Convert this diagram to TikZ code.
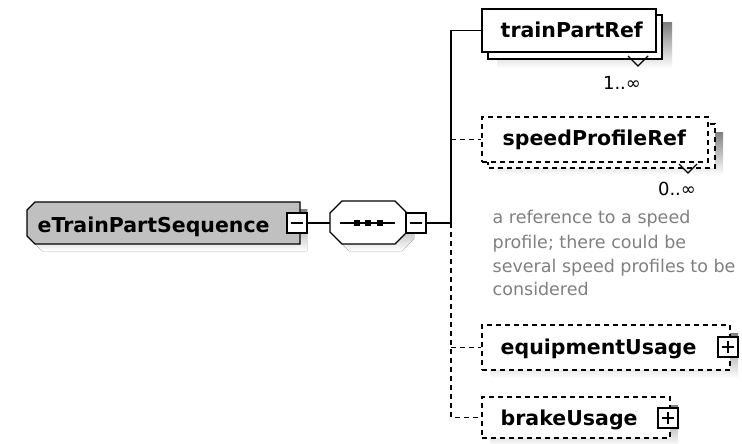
\documentclass[tikz,border=0pt]{standalone}
\usepackage{fontspec}
\setmainfont{DejaVu Sans}
\definecolor{shade}{HTML}{C6C6C6}
\definecolor{mainfill}{HTML}{C0C0C0}
\definecolor{doc}{HTML}{808080}
\begin{document}
\begin{tikzpicture}[x=1pt,y=-1pt,line width=1.4pt,
  box/.style={draw=black,fill=white,line width=1.4pt,inner sep=0pt},
  dbox/.style={box,dash pattern=on 5pt off 4pt},
  title/.style={font=\fontsize{20.5}{24}\selectfont\bfseries,inner sep=0pt,anchor=base west},
  doctext/.style={font=\fontsize{17.5}{20}\selectfont,text=doc,inner sep=0pt,anchor=base west},
  occ/.style={font=\fontsize{18}{20}\selectfont,inner sep=0pt,anchor=base},
  pm/.style={draw=black,fill=white,line width=1.4pt,minimum width=20pt,minimum height=20pt,inner sep=0pt},
  conn/.style={line width=1.4pt},
  dconn/.style={conn,dash pattern=on 5pt off 4pt}]
\useasboundingbox[fill=white] (0,0) rectangle (742,444);

% ---------- main element ----------
\fill[shade,shift={(7,7)}] (35,202) -- (300,202) -- (300,244) -- (35,244) -- (27,236) -- (27,210) -- cycle;
\draw[fill=mainfill] (35,202) -- (300,202) -- (300,244) -- (35,244) -- (27,236) -- (27,210) -- cycle;
\node[title] (mainlbl) at (37,232) {eTrainPartSequence};
\node[pm] (m1) at (297,223) {};
\draw ([xshift=-6pt]m1.center) -- ([xshift=6pt]m1.center);

% ---------- sequence compositor ----------
\fill[shade,shift={(7,7)}] (342,201) -- (395,201) -- (407,213) -- (407,232) -- (395,244) -- (342,244) -- (330,232) -- (330,213) -- cycle;
\draw[fill=white] (342,201) -- (395,201) -- (407,213) -- (407,232) -- (395,244) -- (342,244) -- (330,232) -- (330,213) -- cycle;
\coordinate (seqL) at (330,223);
\coordinate (seqA) at (340,223);
\coordinate (seqB) at (395,223);
\draw (seqA) -- (seqB);
\foreach \xx in {357,368,380} {\fill (\xx-3,220) rectangle (\xx+3,226);}
\node[pm] (m2) at (416,223) {};
\draw ([xshift=-6pt]m2.center) -- ([xshift=6pt]m2.center);

\coordinate (trunk) at (451,223);

% ---------- trainPartRef ----------
\fill[shade] (497,23) rectangle (672,68);
\draw[fill=white] (488,15) rectangle (662,59);
\node[box,minimum width=174pt,minimum height=43pt] (tpr) at (569,30.5) {};
\node[title] (tprlbl) at (500,38) {trainPartRef};
\draw (628,56) -- (638,66) -- (648,56);
\node[occ] (tprocc) at (622,89) {1..∞};

% ---------- speedProfileRef ----------
\fill[shade] (497,132) rectangle (723,175);
\draw[fill=white,dash pattern=on 5pt off 4pt] (488,124) rectangle (715,168);
\node[dbox,minimum width=226pt,minimum height=45pt] (spr) at (595,139.5) {};
\node[title] (sprlbl) at (502,145) {speedProfileRef};
\draw (679,164) -- (688,173) -- (697,164);
\node[occ] (sprocc) at (677,195) {0..∞};

\node[doctext] (d1) at (492,223) {a reference to a speed};
\node[doctext] (d2) at (492,248) {profile; there could be};
\node[doctext] (d3) at (492,272) {several speed profiles to be};
\node[doctext] (d4) at (492,295) {considered};

% ---------- equipmentUsage ----------
\fill[shade] (490,333) rectangle (738,378);
\node[dbox,minimum width=248pt,minimum height=45pt] (eu) at (606,347.5) {};
\node[title] (eulbl) at (500,354) {equipmentUsage};
\node[pm] (p1) at (728,347) {};
\draw ([xshift=-6pt]p1.center) -- ([xshift=6pt]p1.center);
\draw ([yshift=-6pt]p1.center) -- ([yshift=6pt]p1.center);

% ---------- brakeUsage ----------
\fill[shade] (490,405) rectangle (678,446);
\node[dbox,minimum width=188pt,minimum height=41pt] (bu) at (576,417.5) {};
\node[title] (bulbl) at (500,425) {brakeUsage};
\node[pm] (p2) at (668,418) {};
\draw ([xshift=-6pt]p2.center) -- ([xshift=6pt]p2.center);
\draw ([yshift=-6pt]p2.center) -- ([yshift=6pt]p2.center);

% ---------- connectors ----------
\draw[conn] (m1.east) -- (seqL);
\draw[conn] (m2.east) -- (trunk);
\draw[conn] (trunk) -- (trunk |- tpr.west) -- (tpr.west);
\draw[dconn] (trunk |- spr.west) -- (spr.west);
\draw[dconn] (trunk |- eu.west) -- (eu.west);
\draw[dconn] (trunk) -- (trunk |- bu.west) -- (bu.west);
\end{tikzpicture}
\end{document}
